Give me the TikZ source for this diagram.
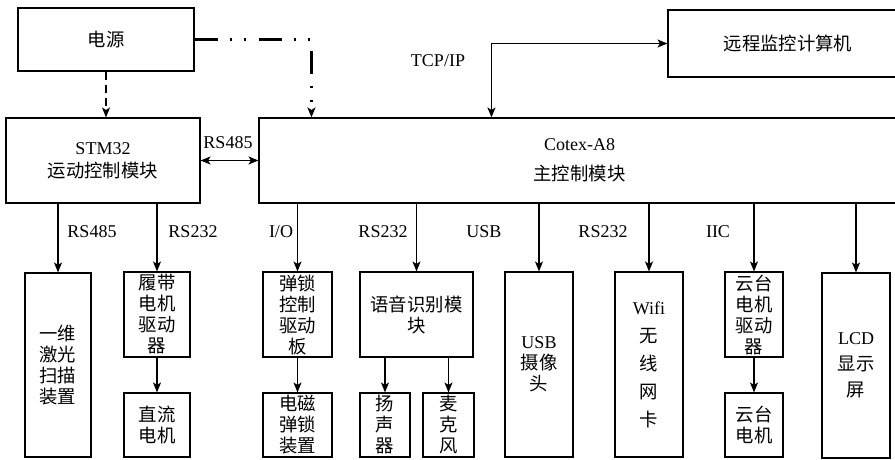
\documentclass[tikz,border=0pt]{standalone}
\usepackage{fontspec}
\setmainfont{Liberation Serif}
\newfontfamily\cjk{Noto Sans CJK SC}[Scale=1.02]
\usetikzlibrary{arrows.meta}
\begin{document}
\begin{tikzpicture}[x=1pt,y=-1pt,
  every node/.style={font=\fontsize{18}{21}\selectfont},
  box/.style={draw, line width=1.1pt, inner sep=0pt, align=center},
  zh/.style={font=\fontsize{18}{21}\selectfont\cjk},
  arr/.style={line width=1.3pt, -{Stealth[length=10pt,width=8pt,inset=2.5pt]}},
  darr/.style={line width=1.3pt, {Stealth[length=10pt,width=8pt,inset=2.5pt]}-{Stealth[length=10pt,width=8pt,inset=2.5pt]}},
  lbl/.style={inner sep=0pt}]
\useasboundingbox (0,0) rectangle (895,459);
% top boxes
\node[box, zh, minimum width=176pt, minimum height=63pt] (pw) at (106,39.5) {电源};
\node[box, zh, minimum width=240pt, minimum height=67pt] (rem) at (788,43.5) {远程监控计算机};
\node[box, minimum width=194pt, minimum height=85pt] (stm) at (103,160.5) {STM32\\[2pt]{\cjk 运动控制模块}};
\node[box, minimum width=641pt, minimum height=85pt] (main) at (579.5,160.5) {Cotex-A8\\[9pt]{\cjk 主控制模块}};
% bottom boxes
\node[box, zh, minimum width=66pt, minimum height=184pt] (laser) at (58,365) {一维\\激光\\扫描\\装置};
\node[box, zh, minimum width=66pt, minimum height=85pt] (crawl) at (157,314.5) {履带\\电机\\驱动\\器};
\node[box, zh, minimum width=66pt, minimum height=64pt] (dc) at (157,425) {直流\\电机};
\node[box, zh, minimum width=69pt, minimum height=85pt] (lockdrv) at (297.5,314.5) {弹锁\\控制\\驱动\\板};
\node[box, zh, minimum width=69pt, minimum height=64pt] (em) at (297.5,425) {电磁\\弹锁\\装置};
\node[box, zh, minimum width=113pt, minimum height=85pt] (voice) at (416.5,314.5) {语音识别模\\块};
\node[box, zh, minimum width=50pt, minimum height=64pt] (spk) at (385,425) {扬\\声\\器};
\node[box, zh, minimum width=51pt, minimum height=64pt] (mic) at (448.5,425) {麦\\克\\风};
\node[box, minimum width=68pt, minimum height=185pt] (usb) at (539,364.5) {USB\\{\cjk 摄像}\\{\cjk 头}};
\node[box, minimum width=68pt, minimum height=185pt] (wifi) at (649,364.5) {Wifi\\[7pt]{\cjk 无}\\[7pt]{\cjk 线}\\[7pt]{\cjk 网}\\[7pt]{\cjk 卡}};
\node[box, zh, minimum width=58pt, minimum height=85pt] (ptzdrv) at (754,314.5) {云台\\电机\\驱动\\器};
\node[box, zh, minimum width=58pt, minimum height=64pt] (ptz) at (754,425) {云台\\电机};
\node[box, minimum width=68pt, minimum height=185pt] (lcd) at (856,365.5) {LCD\\[5pt]{\cjk 显示}\\[5pt]{\cjk 屏}};
% labels
\node[lbl] (ltcp) at (438,61) {TCP/IP};
\node[lbl] (lmid) at (228,143) {RS485};
\node[lbl] (l1) at (92,232) {RS485};
\node[lbl] (l2) at (193,232) {RS232};
\node[lbl] (l3) at (281,232) {I/O};
\node[lbl] (l4) at (383,232) {RS232};
\node[lbl] (l5) at (484,232) {USB};
\node[lbl] (l6) at (603,232) {RS232};
\node[lbl] (l7) at (718,232) {IIC};
% power lines
\draw[line width=1.4pt, dash pattern=on 8pt off 5pt, -{Stealth[length=10pt,width=8pt,inset=2.5pt]}] (pw.south) -- (pw.south |- stm.north);
\draw[line width=2.4pt, dash pattern=on 23pt off 12pt on 2pt off 12pt on 2pt off 13pt, -{Stealth[length=10pt,width=8pt,inset=2.5pt]}] (pw.east) -| ([xshift=53pt]main.north west);
% TCP/IP
\draw[darr] (rem.west) -| ([xshift=233pt]main.north west);
% RS485 between controllers
\draw[darr] (stm.east) -- (main.west);
% downward arrows
\draw[arr] (laser.north |- stm.south) -- (laser.north);
\draw[arr] (crawl.north |- stm.south) -- (crawl.north);
\draw[arr] (crawl) -- (dc);
\draw[arr] (lockdrv.north |- main.south) -- (lockdrv.north);
\draw[arr] (lockdrv) -- (em);
\draw[arr] (voice.north |- main.south) -- (voice.north);
\draw[arr] (spk.north |- voice.south) -- (spk.north);
\draw[arr] (mic.north |- voice.south) -- (mic.north);
\draw[arr] (usb.north |- main.south) -- (usb.north);
\draw[arr] (wifi.north |- main.south) -- (wifi.north);
\draw[arr] (ptzdrv.north |- main.south) -- (ptzdrv.north);
\draw[arr] (ptzdrv) -- (ptz);
\draw[arr] (lcd.north |- main.south) -- (lcd.north);
\end{tikzpicture}
\end{document}
